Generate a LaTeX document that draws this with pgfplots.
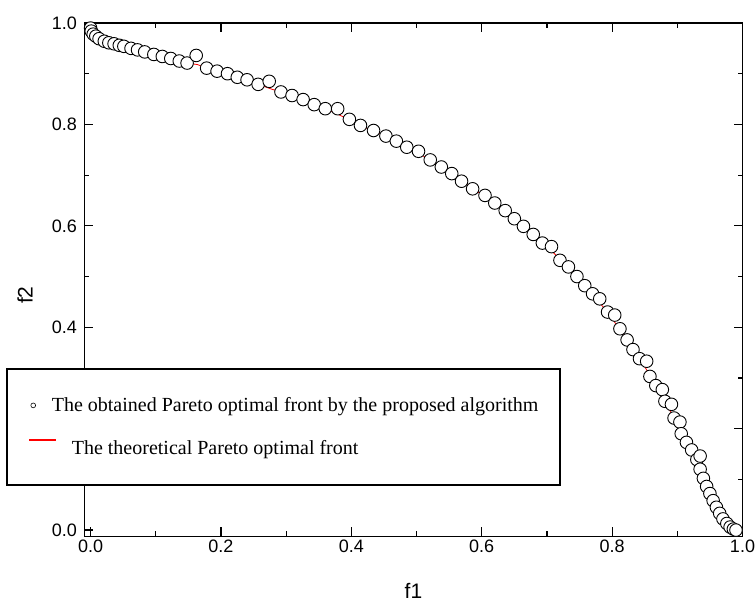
\documentclass[border=0pt]{standalone}
\usepackage{fontspec}
\setmainfont{Liberation Sans}
\newfontfamily\legfont{Liberation Serif}
\usepackage{pgfplots}
\pgfplotsset{compat=1.18}

% obtained front (circles)
\pgfplotstableread{
x y
0.000 0.990
0.001 0.984
0.004 0.978
0.008 0.974
0.013 0.969
0.021 0.964
0.028 0.961
0.036 0.959
0.044 0.956
0.051 0.954
0.062 0.950
0.072 0.947
0.083 0.943
0.097 0.938
0.110 0.934
0.123 0.930
0.136 0.925
0.148 0.921
0.162 0.936
0.178 0.911
0.194 0.905
0.210 0.900
0.225 0.893
0.240 0.888
0.257 0.879
0.274 0.885
0.292 0.864
0.309 0.857
0.326 0.849
0.343 0.839
0.360 0.831
0.379 0.831
0.397 0.810
0.414 0.798
0.434 0.788
0.453 0.777
0.469 0.767
0.485 0.755
0.503 0.747
0.521 0.730
0.538 0.716
0.554 0.703
0.569 0.688
0.586 0.673
0.605 0.660
0.620 0.645
0.636 0.630
0.650 0.614
0.664 0.599
0.679 0.583
0.693 0.566
0.707 0.559
0.720 0.532
0.733 0.519
0.746 0.500
0.758 0.482
0.770 0.466
0.781 0.456
0.793 0.430
0.804 0.424
0.812 0.397
0.823 0.375
0.832 0.356
0.842 0.338
0.853 0.333
0.858 0.303
0.867 0.285
0.877 0.277
0.881 0.254
0.891 0.248
0.895 0.221
0.904 0.213
0.906 0.190
0.914 0.173
0.922 0.158
0.930 0.139
0.935 0.146
0.935 0.120
0.940 0.102
0.945 0.086
0.950 0.072
0.955 0.058
0.960 0.045
0.965 0.033
0.970 0.022
0.976 0.013
0.981 0.006
0.986 0.002
0.990 0.000
}\obtained

% theoretical front (red line, mostly hidden under the circles)
\pgfplotstableread{
x y
0.000 1.000
0.013 0.969
0.051 0.954
0.097 0.938
0.148 0.921
0.164 0.918
0.178 0.911
0.225 0.893
0.257 0.879
0.279 0.869
0.309 0.857
0.360 0.831
0.386 0.816
0.414 0.798
0.469 0.767
0.521 0.730
0.569 0.688
0.620 0.645
0.664 0.599
0.707 0.551
0.746 0.500
0.793 0.430
0.823 0.375
0.842 0.338
0.852 0.318
0.867 0.285
0.895 0.221
0.922 0.158
0.945 0.086
0.965 0.033
0.990 0.000
}\theory

\begin{document}
\begin{tikzpicture}
\begin{axis}[
  scale only axis,
  width=658bp, height=513.4bp,
  xmin=-0.0095, xmax=1.0,
  ymin=-0.0126, ymax=1.0,
  clip=false,
  xtick={0,0.2,0.4,0.6,0.8,1.0},
  ytick={0,0.2,0.4,0.6,0.8,1.0},
  minor xtick={0.1,0.3,0.5,0.7,0.9},
  minor ytick={0.1,0.3,0.5,0.7,0.9},
  tick align=inside,
  major tick length=9bp,
  minor tick length=5bp,
  tick style={black, line width=1.2bp},
  axis line style={line width=1.2bp},
  scaled ticks=false,
  tick label style={font=\fontsize{18bp}{21bp}\selectfont},
  yticklabel style={xshift=-4bp},
  xticklabel={\pgfmathprintnumber[fixed,fixed zerofill,precision=1,assume math mode=true]{\tick}},
  yticklabel={\pgfmathprintnumber[fixed,fixed zerofill,precision=1,assume math mode=true]{\tick}},
  xlabel={f1}, ylabel={f2},
  every axis x label/.style={at={(axis description cs:0.5,-0.1053)}, anchor=center,
    font=\fontsize{21bp}{24bp}\selectfont},
  every axis y label/.style={at={(axis description cs:-0.0903,0.47)}, anchor=center, rotate=90,
    font=\fontsize{21bp}{24bp}\selectfont},
  legend style={
    at={(axis description cs:-0.1185,0.3275)}, anchor=north west,
    draw=black, line width=1.2bp, fill=white,
    font=\legfont\fontsize{20bp}{24bp}\selectfont,
    inner xsep=21.6bp, inner ysep=28.7bp,
    row sep=27.6bp,
    nodes={inner sep=0pt},
    /tikz/every odd column/.append style={column sep=8bp},
    /tikz/row 2 column 2/.style={text depth=12.3bp},
  },
  legend cell align=left,
]
\addplot[red, line width=0.8bp, forget plot] table {\theory};
\addplot[only marks, mark=*, mark size=6.3bp,
  mark options={fill=white, draw=black, line width=0.9bp}, forget plot] table {\obtained};

\addlegendimage{legend image code/.code={
  \draw[draw=black, line width=0.6bp, fill=white] (4bp,0bp) circle (2.4bp);
  \path (0bp,0bp) (14bp,0bp);}}
\addlegendentry{The obtained Pareto optimal front by the proposed algorithm}
\addlegendimage{legend image code/.code={
  \begin{pgfinterruptboundingbox}
  \fill[red] (0bp,8.2bp) rectangle (26bp,9.4bp);
  \end{pgfinterruptboundingbox}
  \path (0bp,0bp) (14bp,0bp);}}
\addlegendentry{\hspace{20bp}The theoretical Pareto optimal front}
\end{axis}
\pgfresetboundingbox
\path ([shift={(-84.4bp,-68bp)}]current axis.south west)
  rectangle ([shift={(13.5bp,23bp)}]current axis.north east);
\end{tikzpicture}
\end{document}
